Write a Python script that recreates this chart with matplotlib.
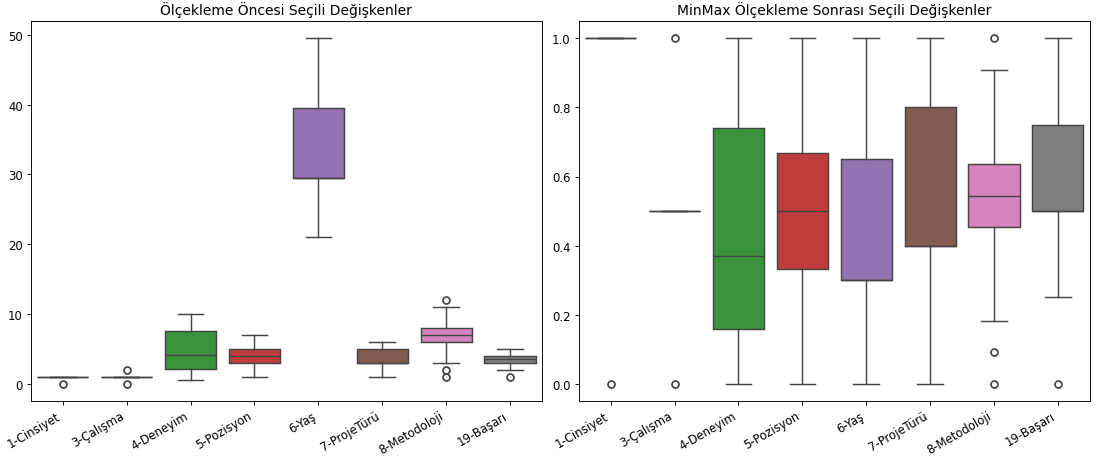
import matplotlib
matplotlib.use('Agg')
import matplotlib.pyplot as plt

labels = ['1-Cinsiyet', '3-Çalışma', '4-Deneyim', '5-Pozisyon', '6-Yaş',
          '7-ProjeTürü', '8-Metodoloji', '19-Başarı']
colors = ['#3274a1', '#e1812c', '#3a923a', '#c03d3e', '#9372b2',
          '#845b53', '#d684bd', '#7f7f7f']

# before scaling
raw_q1 = [1, 1, 2.1, 3, 29.5, 3, 6, 3]
raw_med = [1, 1, 4.1, 4, 29.5, 3, 7, 3.5]
raw_q3 = [1, 1, 7.6, 5, 39.5, 5, 8, 4]
raw_lo = [1, 1, 0.6, 1, 21, 1, 3, 2]
raw_hi = [1, 1, 10, 7, 49.5, 6, 11, 5]
raw_fliers = [[0], [0, 2], [], [], [], [], [12, 2, 1], [1]]

# after MinMax scaling
mm_q1 = [1.0, 0.5, 0.16, 0.333, 0.30, 0.40, 0.4545, 0.50]
mm_med = [1.0, 0.5, 0.37, 0.50, 0.30, 0.40, 0.545, 0.50]
mm_q3 = [1.0, 0.5, 0.74, 0.667, 0.65, 0.80, 0.636, 0.75]
mm_lo = [1.0, 0.5, 0.0, 0.0, 0.0, 0.0, 0.182, 0.25]
mm_hi = [1.0, 0.5, 1.0, 1.0, 1.0, 1.0, 0.909, 1.0]
mm_fliers = [[0.0], [0.0, 1.0], [], [], [], [], [1.0, 0.091, 0.0], [0.0]]


def make_stats(q1, med, q3, lo, hi, fl):
    out = []
    for i in range(len(q1)):
        out.append(dict(q1=q1[i], med=med[i], q3=q3[i], whislo=lo[i],
                        whishi=hi[i], fliers=fl[i]))
    return out


def draw(ax, stats, title):
    lc = '#454545'
    bp = ax.bxp(stats, positions=range(len(stats)), widths=0.8,
                patch_artist=True, showfliers=True,
                boxprops=dict(edgecolor=lc, linewidth=1.25),
                whiskerprops=dict(color=lc, linewidth=1.25),
                capprops=dict(color=lc, linewidth=1.25),
                medianprops=dict(color=lc, linewidth=1.25),
                flierprops=dict(marker='o', markerfacecolor='none',
                                markeredgecolor=lc, markersize=6,
                                markeredgewidth=1.5))
    for patch, c in zip(bp['boxes'], colors):
        patch.set_facecolor(c)
    ax.set_xticks(range(len(labels)))
    ax.set_xticklabels(labels, rotation=30, ha='right')
    ax.set_xlim(-0.5, len(labels) - 0.5)
    ax.set_title(title)


fig, axs = plt.subplots(1, 2, figsize=(13.2, 5.49), dpi=83.4)
draw(axs[0], make_stats(raw_q1, raw_med, raw_q3, raw_lo, raw_hi, raw_fliers),
     'Ölçekleme Öncesi Seçili Değişkenler')
draw(axs[1], make_stats(mm_q1, mm_med, mm_q3, mm_lo, mm_hi, mm_fliers),
     'MinMax Ölçekleme Sonrası Seçili Değişkenler')
fig.subplots_adjust(left=0.028, right=0.990, top=0.952, bottom=0.122, wspace=0.072)
fig.savefig('out.png', dpi=83.4)
